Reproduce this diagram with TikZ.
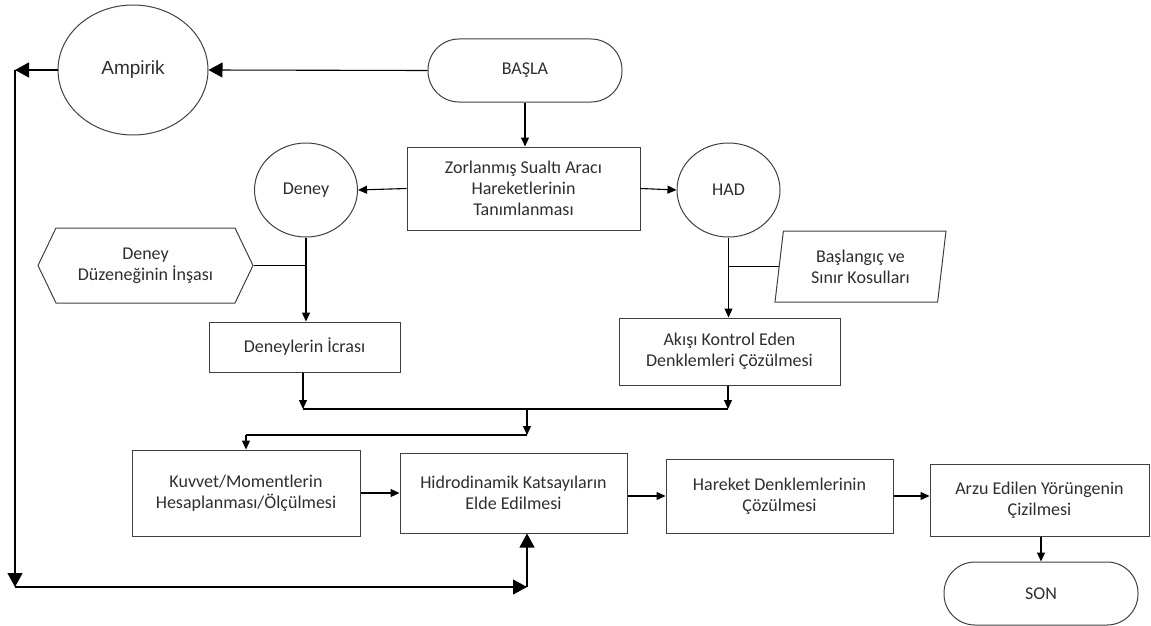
\documentclass[tikz,border=0pt]{standalone}
\usepackage{fontspec}
\setmainfont{Carlito}
\newfontfamily\arialf{Liberation Sans}
\usetikzlibrary{shapes.geometric,shapes.symbols,arrows.meta}
\definecolor{lineC}{HTML}{404040}
\definecolor{txtC}{HTML}{2E2E2E}
\tikzset{
  base/.style={draw=lineC, line width=1pt, text=txtC, align=center, inner sep=0pt,
    font=\fontsize{18}{21}\selectfont},
  boxn/.style={base, rectangle},
  ell/.style={base, ellipse},
  term/.style={base, rectangle, rounded corners=31pt},
  big/.style={line width=1.1pt, -{Triangle[length=14pt,width=15pt]}},
  sml/.style={line width=1.1pt, -{Triangle[length=9pt,width=8pt]}},
  ln/.style={line width=1.1pt}
}
\begin{document}
\begin{tikzpicture}[x=1pt,y=-1pt]
\useasboundingbox (0,0) rectangle (1151,626);
% nodes
\node[ell, minimum width=150pt, minimum height=130pt, font=\arialf\fontsize{19}{22}\selectfont] (amp) at (133,70) {Ampirik};
\node[term, minimum width=194pt, minimum height=63pt] (start) at (525,70.5) {BAŞLA};
\node[boxn, minimum width=233pt, minimum height=83pt] (zor) at (523.5,188.5) {Zorlanmış Sualtı Aracı\\Hareketlerinin\\Tanımlanması};
\node[ell, minimum width=103pt, minimum height=94pt] (deney) at (306,190) {Deney};
\node[ell, minimum width=103pt, minimum height=94pt] (had) at (728.5,190) {HAD};
\node[base, signal, signal to=west and east, signal pointer angle=128.7, minimum width=215pt, minimum height=75pt] (hex) at (145.5,265.5) {Deney\\Düzeneğinin İnşası};
\node[base, trapezium, trapezium left angle=76, trapezium right angle=104, trapezium stretches body, minimum width=171pt, minimum height=71pt] (para) at (860.5,266.5) {Başlangıç ve\\Sınır Kosulları};
\node[boxn, minimum width=191pt, minimum height=50pt] (den) at (304.5,347) {Deneylerin İcrası};
\node[boxn, minimum width=221pt, minimum height=67pt] (akis) at (729.5,351.5) {Akışı Kontrol Eden\\Denklemleri Çözülmesi};
\node[boxn, minimum width=228pt, minimum height=86pt] (kuv) at (246,493) {Kuvvet/Momentlerin\\Hesaplanması/Ölçülmesi};
\node[boxn, minimum width=227pt, minimum height=80pt] (hid) at (513.5,493) {Hidrodinamik Katsayıların\\Elde Edilmesi};
\node[boxn, minimum width=227pt, minimum height=74pt] (har) at (779.5,496) {Hareket Denklemlerinin\\Çözülmesi};
\node[boxn, minimum width=219pt, minimum height=72pt] (arzu) at (1039.5,500) {Arzu Edilen Yörüngenin\\Çizilmesi};
\node[term, minimum width=194pt, minimum height=63pt] (son) at (1041,593.5) {SON};
% coordinates
\coordinate (c1) at (15,70);
\coordinate (c2) at (15,587);
\coordinate (c3) at (527,587);
\coordinate (j1) at (303,409);
\coordinate (j2) at (728,409);
\coordinate (jm) at (527,409);
\coordinate (jc) at (527,435);
\coordinate (jk) at (246,435);
% connectors
\draw[big] (start.west) -- (amp.east);
\draw[big] (amp.west) -- (c1);
\draw[big] (c1) -- (c2);
\draw[big] (c2) -- (c3);
\draw[big] (c3) -- (c3 |- hid.south);
\draw[sml] (start.south) -- (start.south |- zor.north);
\draw[sml] (zor.west) -- (deney.east);
\draw[sml] (zor.east) -- (had.west);
\draw[sml] (deney.south) -- (deney.south |- den.north);
\draw[ln] (hex.east) -- (deney.south |- hex.east);
\draw[sml] (had.south) -- (had.south |- akis.north);
\draw[ln] (para.west) -- (had.south |- para.west);
\draw[sml] (den.south -| j1) -- (j1);
\draw[sml] (akis.south -| j2) -- (j2);
\draw[ln] (j1) -- (j2);
\draw[sml] (jm) -- (jc);
\draw[ln] (jc) -- (jk);
\draw[sml] (jk) -- (kuv.north);
\draw[sml] (kuv.east) -- (hid.west);
\draw[sml] (hid.east |- har) -- (har.west);
\draw[sml] (har.east) -- (har.east -| arzu.west);
\draw[sml] (son.north |- arzu.south) -- (son.north);
\end{tikzpicture}
\end{document}
